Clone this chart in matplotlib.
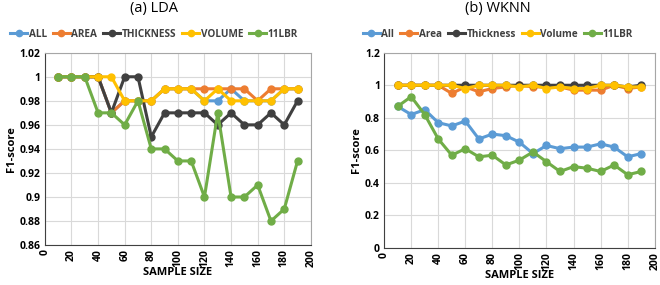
import matplotlib
matplotlib.use("Agg")
import matplotlib.pyplot as plt

plt.rcParams["font.family"] = ["Open Sans", "DejaVu Sans"]

sample_size = [10, 20, 30, 40, 50, 60, 70, 80, 90, 100, 110, 120, 130, 140, 150, 160, 170, 180, 190]

# (a) LDA
lda_all = [1, 1, 1, 1, 0.97, 0.98, 0.98, 0.98, 0.99, 0.99, 0.99, 0.98, 0.98, 0.99, 0.98, 0.98, 0.98, 0.99, 0.99]
lda_area = [1, 1, 1, 1, 0.97, 0.98, 0.98, 0.98, 0.99, 0.99, 0.99, 0.99, 0.99, 0.99, 0.99, 0.98, 0.99, 0.99, 0.99]
lda_thickness = [1, 1, 1, 1, 0.97, 1, 1, 0.95, 0.97, 0.97, 0.97, 0.97, 0.96, 0.97, 0.96, 0.96, 0.97, 0.96, 0.98]
lda_volume = [1, 1, 1, 1, 1, 0.98, 0.98, 0.98, 0.99, 0.99, 0.99, 0.98, 0.99, 0.98, 0.98, 0.98, 0.98, 0.99, 0.99]
lda_11lbr = [1, 1, 1, 0.97, 0.97, 0.96, 0.98, 0.94, 0.94, 0.93, 0.93, 0.90, 0.97, 0.90, 0.90, 0.91, 0.88, 0.89, 0.93]

# (b) WKNN
wknn_all = [0.87, 0.82, 0.85, 0.77, 0.75, 0.78, 0.67, 0.70, 0.69, 0.65, 0.58, 0.63, 0.61, 0.62, 0.62, 0.64, 0.62, 0.56, 0.58]
wknn_area = [1, 1, 1, 1, 0.95, 0.99, 0.96, 0.98, 0.99, 1, 0.99, 0.99, 0.99, 0.97, 0.97, 0.97, 1, 0.98, 0.99]
wknn_thickness = [1, 1, 1, 1, 1, 1, 1, 1, 1, 1, 1, 1, 1, 1, 1, 1, 1, 0.99, 1]
wknn_volume = [1, 1, 1, 1, 1, 0.98, 1, 1, 1, 0.99, 1, 0.98, 0.99, 0.98, 0.98, 1, 1, 0.99, 0.99]
wknn_11lbr = [0.87, 0.93, 0.82, 0.67, 0.57, 0.61, 0.56, 0.57, 0.51, 0.54, 0.59, 0.53, 0.47, 0.50, 0.49, 0.47, 0.51, 0.45, 0.47]

colors = ["#5B9BD5", "#ED7D31", "#404040", "#FFC000", "#70AD47"]


def draw_panel(ax, series, labels, title, ylim, yticks, xc):
    for vals, lab, col in zip(series, labels, colors):
        ax.plot(sample_size, vals, marker="o", markersize=5, linewidth=2.2,
                color=col, label=lab)
    ax.set_xlim(0, 200)
    ax.set_xticks(range(0, 201, 20))
    ax.set_ylim(*ylim)
    ax.set_yticks(yticks)
    ax.set_yticklabels([f"{v:g}" for v in yticks])
    ax.grid(True, color="#D9D9D9", linewidth=0.8)
    ax.set_axisbelow(True)
    for sp in ax.spines.values():
        sp.set_color("#A6A6A6")
    ax.spines["left"].set_color("#404040")
    ax.spines["bottom"].set_color("#404040")
    ax.tick_params(length=0, labelsize=7.5, pad=3)
    for t in ax.get_xticklabels():
        t.set_rotation(90)
        t.set_fontweight("bold")
    for t in ax.get_yticklabels():
        t.set_fontweight("bold")
    ax.set_xlabel("SAMPLE SIZE", fontsize=8, fontweight="bold", labelpad=0)
    ax.set_ylabel("F1-score", fontsize=8, fontweight="bold", labelpad=2)
    ax.set_title(title, fontsize=10.5, pad=29, x=xc)
    leg = ax.legend(loc="lower center", bbox_to_anchor=(xc, 1.03), ncol=5,
                    frameon=False, fontsize=7.2, handlelength=1.7, handletextpad=0.15,
                    columnspacing=0.6, borderaxespad=0.3, markerscale=0.9)
    for t in leg.get_texts():
        t.set_fontweight("bold")
        t.set_color("#404040")


fig = plt.figure(figsize=(6.6, 2.85), dpi=100)
ax1 = fig.add_axes([0.068, 0.14, 0.403, 0.675])
ax2 = fig.add_axes([0.582, 0.13, 0.41, 0.685])

draw_panel(ax1, [lda_all, lda_area, lda_thickness, lda_volume, lda_11lbr],
           ["ALL", "AREA", "THICKNESS", "VOLUME", "11LBR"], "(a) LDA",
           (0.86, 1.02), [0.86, 0.88, 0.9, 0.92, 0.94, 0.96, 0.98, 1, 1.02], 0.41)
draw_panel(ax2, [wknn_all, wknn_area, wknn_thickness, wknn_volume, wknn_11lbr],
           ["All", "Area", "Thickness", "Volume", "11LBR"], "(b) WKNN",
           (0, 1.2), [0, 0.2, 0.4, 0.6, 0.8, 1, 1.2], 0.42)

fig.savefig("out.png", dpi=100)
